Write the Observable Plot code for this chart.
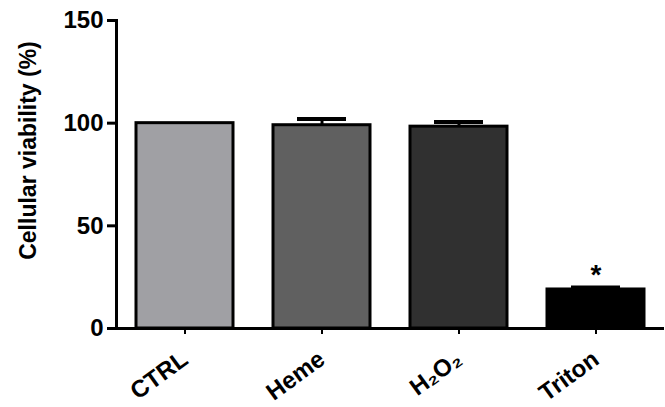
<!DOCTYPE html>
<html><head><meta charset="utf-8">
<script src="https://cdn.jsdelivr.net/npm/d3@7"></script>
<script src="https://cdn.jsdelivr.net/npm/@observablehq/plot@0.6"></script>
<style>body{margin:0;background:#fff;} svg{display:block;}</style>
</head><body><div id="chart"></div>
<script>
const groups = ["CTRL", "Heme", "H₂O₂", "Triton"];
const viability = [100, 99, 98.3, 19];
const sem = [0, 3, 2.3, 1];
const fills = ["#a0a0a4", "#606060", "#303030", "#000000"];
const yTicks = [0, 50, 100, 150];
const marks_ = ["", "", "", "*"];
const yLabel = "Cellular viability (%)";

const data = groups.map((g, i) => ({group: g, value: viability[i], err: sem[i], fill: fills[i], mark: marks_[i]}));

const chart = Plot.plot({
  width: 665, height: 407,
  marginLeft: 116, marginRight: 1, marginTop: 20, marginBottom: 79,
  style: {fontFamily: "'Liberation Sans', Arial, sans-serif", background: "#fff", color: "#000"},
  x: {domain: groups, paddingInner: 0.29, paddingOuter: 0.145},
  y: {domain: [0, 150]},
  marks: [
    Plot.barY(data, {x: "group", y: "value", fill: "fill", stroke: "#000", strokeWidth: 3}),
    Plot.ruleX(data.filter(d => d.err > 0), {x: "group", y1: "value", y2: d => d.value + d.err, stroke: "#000", strokeWidth: 3}),
    Plot.tickY(data.filter(d => d.err > 0), {x: "group", y: d => d.value + d.err, stroke: "#000", strokeWidth: 4, insetLeft: 24, insetRight: 24}),
    Plot.text(data, {x: "group", y: d => d.value + d.err, text: "mark", dy: -12, fontSize: 28, fontWeight: "bold", fill: "#000"}),
    Plot.ruleY([0], {stroke: "#000", strokeWidth: 3}),
    Plot.frame({anchor: "left", stroke: "#000", strokeWidth: 3}),
    Plot.axisY({ticks: yTicks, tickSize: 9, strokeWidth: 3, tickPadding: 4, fontSize: 24, fontWeight: "bold", label: null}),
    Plot.text([yLabel], {text: d => d, frameAnchor: "left", textAnchor: "middle", rotate: -90, dx: -88, dy: -24, fontSize: 23, fontWeight: "bold", fill: "#000"}),
    Plot.axisX({tickSize: 6, strokeWidth: 2, tickRotate: -36, fontSize: 24, fontWeight: "bold", tickPadding: 22, label: null})
  ]
});
document.getElementById("chart").appendChild(chart);
</script>
</body></html>
